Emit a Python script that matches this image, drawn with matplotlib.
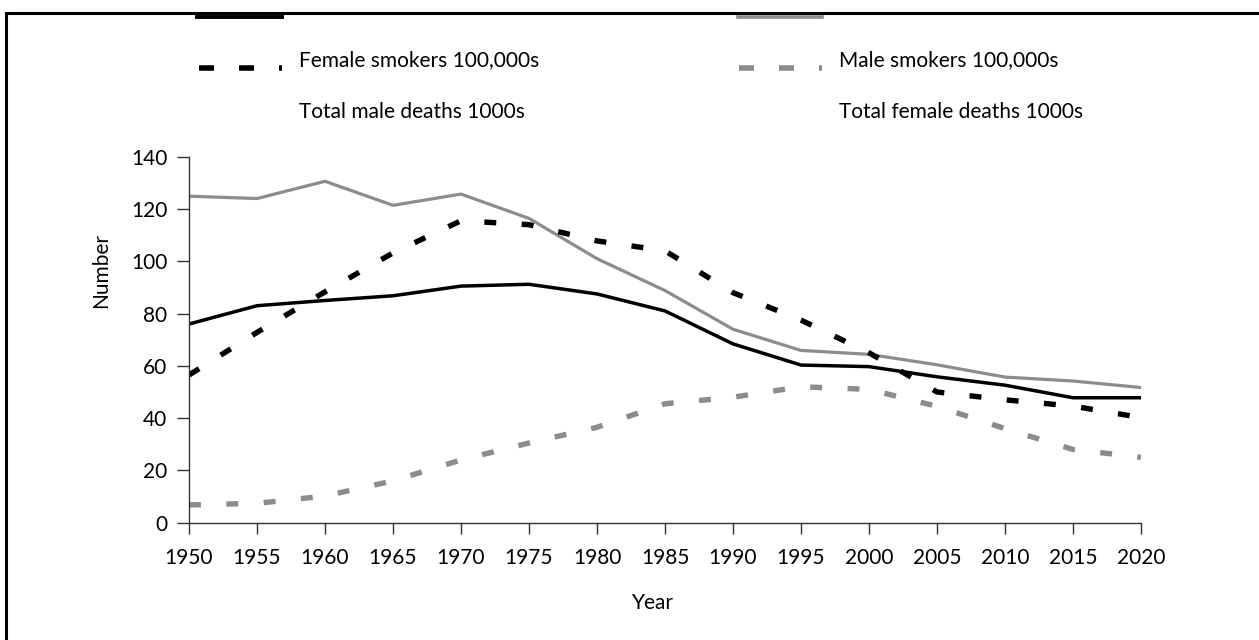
######################## Import libraries ############################
import matplotlib.pyplot as plt
from matplotlib.lines import Line2D
from matplotlib.patches import Rectangle

######################## Data ############################
years = [1950, 1955, 1960, 1965, 1970, 1975, 1980, 1985, 1990, 1995, 2000, 2005, 2010, 2015, 2020]
male_deaths = [76, 83, 85, 86.8, 90.5, 91.2, 87.5, 81, 68.4, 60.3, 59.7, 55.8, 52.6, 47.8, 47.8]
female_deaths = [124.9, 124, 130.6, 121.4, 125.7, 116.4, 101, 88.8, 74, 65.9, 64.4, 60.4, 55.7, 54.2, 51.7]
female_smokers = [56.5, 72.8, 88.3, 103.2, 115.5, 114, 107.8, 104, 88, 77.5, 65, 50, 47, 44.6, 40.2]
male_smokers = [6.8, 7.4, 10.2, 16, 24, 30.5, 36.5, 45.5, 48, 52, 51, 44.5, 36, 28, 25]

labels = ["Female smokers 100,000s", "Male smokers 100,000s",
          "Total male deaths 1000s", "Total female deaths 1000s"]
y_ticks = [0, 20, 40, 60, 80, 100, 120, 140]

GREY = "#8c8c8c"
plt.rcParams['font.family'] = ['Lato', 'DejaVu Sans']
plt.rcParams['font.size'] = 15

W, H = 1259, 640
fig = plt.figure(figsize=(W / 100, H / 100), dpi=100)
ax = fig.add_axes([189 / W, 1 - 522.7 / H, (1141 - 189) / W, (522.7 - 156.7) / H])

######################## Lines ############################
dash = (2.2, 4.7)
ax.plot(years, female_deaths, color=GREY, lw=2.3, solid_joinstyle='miter')
ax.plot(years, male_deaths, color='black', lw=2.5, solid_joinstyle='miter')
ax.plot(years, male_smokers, color=GREY, lw=3.9, dashes=dash, dash_capstyle='butt')
ax.plot(years, female_smokers, color='black', lw=3.9, dashes=dash, dash_capstyle='butt')

######################## Axes ############################
ax.set_xlim(1950, 2020)
ax.set_ylim(0, 140)
ax.set_xticks(years)
ax.set_yticks(y_ticks)
for s in ['top', 'right']:
    ax.spines[s].set_visible(False)
for s in ['left', 'bottom']:
    ax.spines[s].set_color('#333333')
    ax.spines[s].set_linewidth(1)
ax.tick_params(axis='x', length=8, width=1, color='#333333', pad=10)
ax.tick_params(axis='y', length=8.5, width=1, color='#333333', pad=7)

fig.text(653 / W, 1 - 603 / H, "Year", ha='center', va='center')
fig.text(101 / W, 1 - 270 / H, "Number", ha='center', va='center', rotation=90)

######################## Legend (drawn by hand, as in the original) ############################
def fx(px):
    return px / W

def fy(py):
    return 1 - py / H

fig.add_artist(Line2D([fx(197), fx(282)], [fy(17), fy(17)], color='black', lw=2.8))
fig.add_artist(Line2D([fx(738), fx(822)], [fy(16.5), fy(16.5)], color=GREY, lw=2.6))
fig.add_artist(Line2D([fx(199), fx(282)], [fy(68), fy(68)], color='black', lw=4,
                      dashes=(2.7, 4.5), dash_capstyle='butt'))
fig.add_artist(Line2D([fx(739), fx(822)], [fy(68), fy(68)], color=GREY, lw=4,
                      dashes=(2.7, 4.5), dash_capstyle='butt'))
fig.text(fx(299), fy(60), labels[0], ha='left', va='center')
fig.text(fx(839), fy(60), labels[1], ha='left', va='center')
fig.text(fx(299), fy(112), labels[2], ha='left', va='center')
fig.text(fx(839), fy(112), labels[3], ha='left', va='center')

# outer frame, only top and left edges fall inside the picture
fig.add_artist(Rectangle((fx(6), -0.5), 2, fy(13) + 0.5, fill=False,
                         edgecolor='black', lw=2.2))

fig.savefig("out.png", dpi=100)
